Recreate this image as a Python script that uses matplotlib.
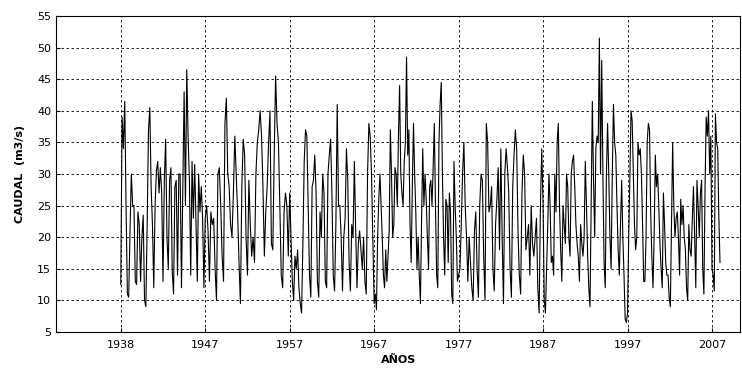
import matplotlib
matplotlib.use("Agg")
import matplotlib.pyplot as plt
import numpy as np

# caudal medio (m3/s), leido por tramos entre marcas del eje (120 meses cada una)
q_1938 = [12.5, 39, 34, 41.5, 25, 11, 10.5, 21, 30, 25, 25, 13, 12.5, 24, 22, 13,
          20, 23.5, 10, 9, 22, 37, 40.5, 28, 22, 12, 25, 30.5, 32, 27, 31, 27, 13,
          29, 35.5, 20, 15, 29, 31, 14.5, 11, 28, 29, 14, 30, 30, 12, 27, 43, 25,
          46.5, 36, 29, 14, 32, 23, 31.5, 22, 13, 30, 24, 28, 23, 12]
q_1947 = [23, 25, 21, 13, 24, 22, 23, 15, 10, 30, 31, 25, 17, 13, 38, 42, 30, 28,
          22, 20, 27, 36, 30, 24, 16, 9.5, 28, 35.5, 33, 20, 14, 29, 22, 17, 20, 16,
          30, 35, 37, 40, 36, 28, 17, 24, 28, 35, 40, 19, 18, 33, 45.5, 38, 35, 25,
          14, 12, 24, 27, 25, 17]
q_1957 = [27, 20, 13, 10, 17, 15, 18, 12, 9.5, 8, 19, 32, 37, 36, 25, 14, 10.5, 28,
          29, 33, 27, 13, 10.5, 24, 20, 30, 27, 13, 12, 30, 33, 35.5, 27, 14, 11.5,
          22, 41, 25, 25, 20, 11.5, 20, 23, 34, 29, 16, 11.5, 22, 20, 32, 21, 12, 19,
          21, 18, 15, 20, 13, 11, 30, 38, 36, 30, 20]
q_1967 = [9.5, 11, 8.5, 20, 26, 30, 25, 20, 14, 12, 18, 13, 17, 21, 37, 30, 20, 22,
          31, 30, 25, 36, 44, 30, 27, 25, 32, 35, 48.5, 33, 37, 22, 16, 28, 38, 30,
          24, 15, 20, 14, 9.5, 23, 34, 25, 30, 26, 20, 15, 28, 29, 25, 31, 38, 25, 14,
          12, 35, 41, 44.5, 30, 20, 14, 26, 25, 16, 27, 24, 11, 9.5, 32, 25, 20, 13]
q_1977 = [14, 15, 22, 30, 35, 25, 20, 13, 20, 16, 12, 10, 21, 24, 15, 10.5, 25, 30,
          29, 17, 10, 38, 35, 24, 25, 28, 15, 11.5, 22, 26, 31, 18, 34, 20, 9.5, 30,
          34, 31, 27, 15, 10.5, 28, 33, 37, 34, 21, 14, 11, 27, 33, 30, 18, 20, 22, 14,
          25, 19, 17, 20, 23, 12, 8, 25, 34]
q_1987 = [25, 10, 8, 15, 22, 30, 25, 16, 17, 14, 30, 24, 35, 38, 25, 18, 13, 25, 22,
          19, 30, 28, 20, 17, 30, 32, 33, 28, 22, 19, 17, 13, 22, 19, 17, 20, 32, 25,
          17, 12, 9, 25, 41.5, 29, 20, 34, 36, 35, 51.5, 30, 48, 30, 16, 12, 30, 38,
          30, 20, 15, 30, 41, 35, 33, 25, 18, 14, 22, 29, 20, 14, 7, 6.5]
q_1997 = [8, 20, 29, 40, 38.5, 30, 22, 18, 20, 35, 33, 34, 30, 22, 13, 13, 20, 35, 38,
          37, 24, 17, 12, 20, 33, 28, 30, 25, 19, 15, 12, 27, 22, 16, 14, 14, 10.5, 9,
          22, 35, 25, 20, 23, 24, 20, 14, 26, 22, 25, 20, 18, 12, 10, 22, 18, 17, 23,
          28, 20, 12, 29, 25, 20, 27, 29, 15, 11, 28, 39, 36, 40, 30, 36]
q_2007 = [15, 14, 11.5, 39.5, 35, 34, 23, 16]

tramos = [q_1938, q_1947, q_1957, q_1967, q_1977, q_1987, q_1997, q_2007]
meses_tramo = [120, 120, 120, 120, 120, 120, 120, 13]
etiquetas = ["1938", "1947", "1957", "1967", "1977", "1987", "1997", "2007"]

# cada tramo empieza en una marca del eje (meses desde el inicio)
t, q = [], []
inicio = 0
for vals, span in zip(tramos, meses_tramo):
    n = len(vals)
    t.extend(inicio + np.arange(n) * span / n)
    q.extend(vals)
    inicio += span
t = np.array(t)
q = np.array(q)

fig = plt.figure(figsize=(7.42, 3.69), dpi=100)
ax = fig.add_axes([0.0755, 0.1003, 0.922, 0.8563])

ax.plot(t, q, color="black", linewidth=0.8)

ax.set_xlim(-92, 880)
ax.set_ylim(5, 55)
ax.set_xticks(np.arange(len(etiquetas)) * 120)
ax.set_xticklabels(etiquetas)
ax.set_yticks(np.arange(5, 56, 5))

ax.grid(True, color="black", linestyle=(0, (3, 3)), linewidth=0.6)
ax.tick_params(labelsize=8, length=3, direction="in", top=False, right=False)
ax.tick_params(axis="x", pad=6)
for s in ax.spines.values():
    s.set_linewidth(0.8)

ax.set_xlabel("AÑOS", fontsize=8, fontweight="bold", labelpad=3)
ax.set_ylabel("CAUDAL  (m3/s)", fontsize=8, fontweight="bold", labelpad=9)

fig.savefig("out.png", dpi=100)
